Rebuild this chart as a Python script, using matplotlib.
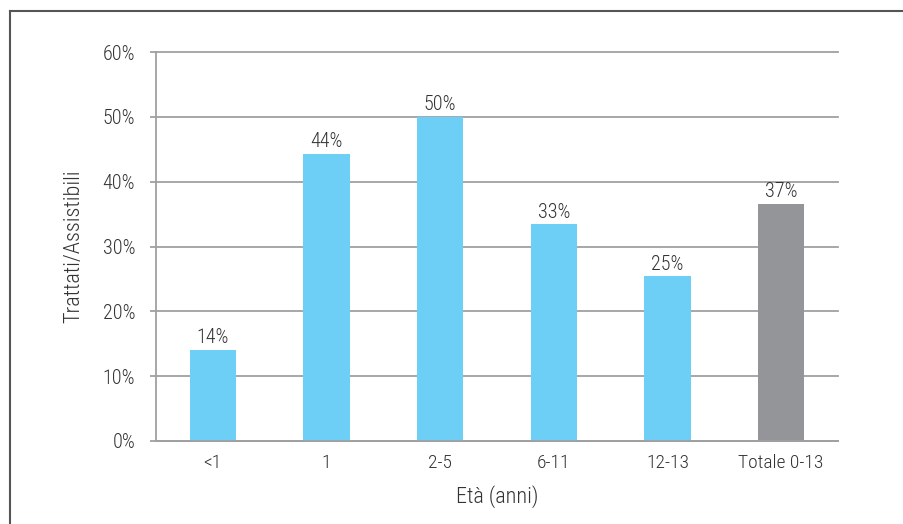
import matplotlib.pyplot as plt
from matplotlib.lines import Line2D

# age classes and share of treated over eligible (%)
categories = ["<1", "1", "2-5", "6-11", "12-13", "Totale 0-13"]
values = [14.0, 44.3, 50.0, 33.4, 25.4, 36.6]
yticks = [0, 10, 20, 30, 40, 50, 60]

plt.rcParams["font.family"] = ["Roboto Condensed", "Roboto", "DejaVu Sans"]
plt.rcParams["font.weight"] = "light"
plt.rcParams["axes.labelweight"] = "light"

blue = "#6dcff6"
grey = "#939598"
text_col = "#333333"
line_col = "#a0a0a2"
colors = [blue] * 5 + [grey]

fig = plt.figure(figsize=(9.04, 5.24), dpi=100)
ax = fig.add_axes([156 / 904, 1 - 441 / 524, 682 / 904, 389 / 524])

x = range(len(categories))
bars = ax.bar(x, values, width=0.41, color=colors, zorder=2)

for b, v in zip(bars, values):
    ax.annotate(f"{round(v)}%", (b.get_x() + b.get_width() / 2, v),
                xytext=(0, 2), textcoords="offset points",
                ha="center", va="bottom", fontsize=14.5, color=text_col)

ax.set_xlim(-0.5, len(categories) - 0.5)
ax.set_ylim(0, 60)
ax.set_yticks(yticks)
ax.set_yticklabels([f"{t}%" for t in yticks])
ax.set_xticks(list(x))
ax.set_xticklabels(categories)
ax.yaxis.grid(True, color=line_col, linewidth=1.3, zorder=0)
for gl in ax.get_ygridlines():
    gl.set_clip_on(False)
ax.set_axisbelow(True)

for s in ["top", "right"]:
    ax.spines[s].set_visible(False)
for s in ["left", "bottom"]:
    ax.spines[s].set_color(line_col)
    ax.spines[s].set_linewidth(1.3)

ax.tick_params(axis="y", length=4, width=1.3, color=line_col, labelsize=14.5,
               labelcolor=text_col, pad=11)
ax.tick_params(axis="x", length=0, labelsize=14, labelcolor=text_col, pad=9)

ax.set_xlabel("Età (anni)", fontsize=16, color=text_col, labelpad=10)
ax.set_ylabel("Trattati/Assistibili", fontsize=16, color=text_col, labelpad=13)

# outer frame, open towards the bottom and right edge
fig.add_artist(Line2D([9.5 / 904, 9.5 / 904], [0, 1 - 10.5 / 524],
                      transform=fig.transFigure, color="#555555", linewidth=1.5))
fig.add_artist(Line2D([9.5 / 904, 1], [1 - 10.5 / 524, 1 - 10.5 / 524],
                      transform=fig.transFigure, color="#555555", linewidth=1.5))

fig.savefig("out.png", dpi=100)
